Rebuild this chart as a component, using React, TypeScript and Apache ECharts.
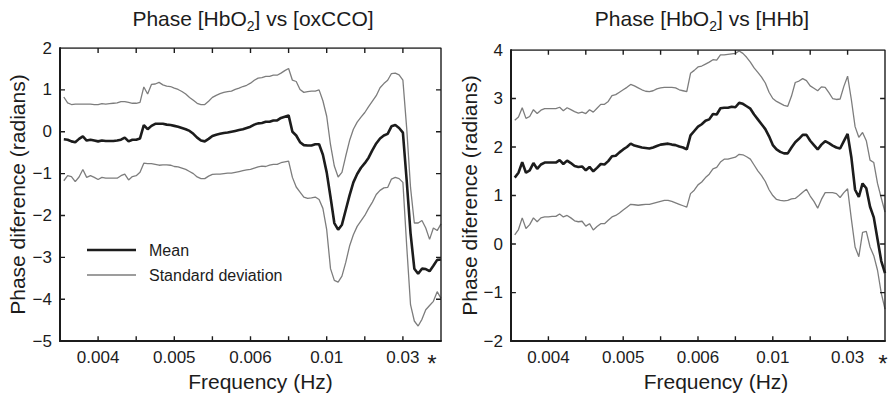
import React, { useEffect, useRef } from 'react';
import * as echarts from 'echarts';

// x positions are sample numbers 1..100 on a 0..100 warped-frequency axis
const tickPositions = [10, 30, 50, 70, 90];
const tickLabels = ['0.004', '0.005', '0.006', '0.01', '0.03'];
const xTickVals = [10, 20, 30, 40, 50, 60, 70, 80, 90];
const yTickValsA = [-4, -3, -2, -1, 0, 1];
const yTickValsB = [-1, 0, 1, 2, 3];

// Panel A: Phase [HbO2] vs [oxCCO]
const meanA = [
  -0.18, -0.19, -0.23, -0.25, -0.17, -0.11, -0.21, -0.19, -0.21, -0.23,
  -0.21, -0.22, -0.22, -0.22, -0.21, -0.19, -0.14, -0.23, -0.19, -0.19,
  -0.16, 0.16, 0.06, 0.14, 0.19, 0.19, 0.19, 0.17, 0.16, 0.14,
  0.12, 0.09, 0.06, 0.02, -0.05, -0.14, -0.21, -0.23, -0.17, -0.10,
  -0.07, -0.05, -0.03, -0.02, 0.0, 0.02, 0.04, 0.06, 0.09, 0.12,
  0.17, 0.20, 0.21, 0.24, 0.24, 0.27, 0.27, 0.33, 0.36, 0.39,
  0.0, -0.09, -0.25, -0.32, -0.33, -0.33, -0.30, -0.30, -0.55, -0.97,
  -1.56, -2.18, -2.34, -2.22, -1.87, -1.52, -1.21, -1.01, -0.86, -0.75,
  -0.62, -0.44, -0.28, -0.16, -0.09, -0.05, 0.13, 0.16, 0.09, -0.02,
  -1.17, -2.42, -3.27, -3.39, -3.27, -3.28, -3.33, -3.20, -3.06, -3.05,
];
const upperA = [
  0.83, 0.69, 0.65, 0.66, 0.66, 0.66, 0.66, 0.66, 0.65, 0.65,
  0.67, 0.66, 0.67, 0.68, 0.69, 0.72, 0.72, 0.70, 0.68, 0.68,
  0.70, 1.07, 0.90, 1.13, 1.14, 1.18, 1.12, 1.09, 1.08, 1.04,
  1.01, 0.96, 0.90, 0.82, 0.75, 0.68, 0.65, 0.65, 0.73, 0.82,
  0.87, 0.91, 0.94, 0.96, 0.97, 1.01, 1.04, 1.08, 1.11, 1.16,
  1.23, 1.28, 1.29, 1.32, 1.32, 1.35, 1.35, 1.40, 1.46, 1.51,
  1.23, 1.20, 1.01, 0.94, 0.96, 0.97, 0.97, 1.00, 0.74, 0.37,
  -0.31, -0.82, -1.08, -0.97, -0.58, -0.21, 0.06, 0.23, 0.35, 0.46,
  0.60, 0.73, 0.86, 1.05, 1.15, 1.23, 1.39, 1.40, 1.36, 1.23,
  0.08, -1.33, -2.18, -2.18, -2.12, -2.30, -2.57, -2.30, -2.36, -2.20,
];
const lowerA = [
  -1.17, -1.05, -1.07, -1.19, -1.08, -0.90, -1.09, -1.05, -1.09, -1.14,
  -1.09, -1.11, -1.11, -1.11, -1.11, -1.05, -1.01, -1.15, -1.07, -1.05,
  -0.97, -0.75, -0.76, -0.76, -0.78, -0.80, -0.79, -0.79, -0.80, -0.83,
  -0.84, -0.87, -0.90, -0.95, -1.00, -1.08, -1.12, -1.12, -1.06, -1.02,
  -1.01, -1.01, -1.00, -0.99, -0.99, -0.97, -0.95, -0.93, -0.91, -0.90,
  -0.87, -0.84, -0.82, -0.83, -0.80, -0.78, -0.78, -0.74, -0.72, -0.70,
  -1.09, -1.32, -1.44, -1.56, -1.59, -1.58, -1.56, -1.62, -1.83, -2.34,
  -3.27, -3.55, -3.59, -3.45, -3.12, -2.73, -2.46, -2.26, -2.13, -2.00,
  -1.83, -1.68, -1.50, -1.40, -1.34, -1.33, -1.13, -1.09, -1.12, -1.21,
  -2.73, -4.13, -4.52, -4.64, -4.48, -4.25, -4.15, -4.05, -3.82, -3.98,
];

// Panel B: Phase [HbO2] vs [HHb]
const meanB = [
  1.37, 1.47, 1.69, 1.47, 1.52, 1.67, 1.55, 1.64, 1.68, 1.68,
  1.68, 1.68, 1.73, 1.65, 1.72, 1.67, 1.61, 1.59, 1.60, 1.52,
  1.59, 1.50, 1.57, 1.65, 1.64, 1.71, 1.81, 1.82, 1.89, 1.95,
  2.00, 2.07, 2.03, 2.01, 1.99, 1.98, 1.97, 1.99, 2.02, 2.05,
  2.06, 2.07, 2.05, 2.04, 2.01, 1.99, 1.95, 2.24, 2.33, 2.42,
  2.47, 2.54, 2.57, 2.68, 2.67, 2.80, 2.81, 2.81, 2.83, 2.82,
  2.91, 2.89, 2.84, 2.79, 2.67, 2.57, 2.47, 2.37, 2.22, 2.04,
  1.95, 1.90, 1.87, 1.87, 1.99, 2.10, 2.17, 2.25, 2.25, 2.13,
  2.04, 1.95, 2.05, 2.12, 2.08, 2.03, 1.99, 1.97, 2.12, 2.27,
  1.79, 1.12, 0.97, 1.25, 1.15, 0.77, 0.55, 0.10, -0.35, -0.60,
];
const upperB = [
  2.55, 2.62, 2.81, 2.59, 2.63, 2.77, 2.69, 2.76, 2.79, 2.79,
  2.79, 2.79, 2.82, 2.75, 2.81, 2.77, 2.73, 2.70, 2.72, 2.69,
  2.77, 2.72, 2.80, 2.88, 2.88, 2.94, 3.06, 3.08, 3.13, 3.18,
  3.23, 3.29, 3.26, 3.22, 3.18, 3.15, 3.14, 3.16, 3.20, 3.22,
  3.23, 3.23, 3.23, 3.22, 3.18, 3.16, 3.14, 3.52, 3.58, 3.65,
  3.67, 3.71, 3.75, 3.80, 3.79, 3.90, 3.90, 3.91, 3.92, 3.93,
  3.98, 3.93, 3.85, 3.75, 3.63, 3.54, 3.44, 3.32, 3.13, 3.00,
  2.94, 2.90, 2.86, 2.84, 3.05, 3.33, 3.36, 3.41, 3.37, 3.26,
  3.21, 3.16, 3.24, 3.23, 3.12, 3.00, 2.98, 2.99, 3.25, 3.46,
  2.98, 2.42, 2.20, 2.30, 2.13, 1.73, 1.68, 1.25, 0.95, 0.66,
];
const lowerB = [
  0.19, 0.30, 0.54, 0.32, 0.40, 0.54, 0.46, 0.54, 0.56, 0.56,
  0.57, 0.57, 0.62, 0.56, 0.59, 0.54, 0.48, 0.46, 0.47, 0.37,
  0.42, 0.29, 0.36, 0.42, 0.42, 0.49, 0.56, 0.59, 0.64, 0.70,
  0.76, 0.82, 0.81, 0.80, 0.81, 0.82, 0.82, 0.84, 0.86, 0.88,
  0.90, 0.90, 0.88, 0.85, 0.82, 0.79, 0.76, 1.04, 1.11, 1.22,
  1.28, 1.37, 1.44, 1.55, 1.58, 1.69, 1.75, 1.75, 1.77, 1.79,
  1.85, 1.84, 1.80, 1.75, 1.63, 1.51, 1.41, 1.29, 1.12, 1.00,
  0.92, 0.90, 0.89, 0.90, 0.93, 0.94, 1.00, 1.07, 1.13, 0.99,
  0.88, 0.74, 0.92, 1.06, 1.06, 1.06, 1.04, 0.96, 1.06, 1.14,
  0.52, -0.06, -0.26, 0.24, 0.26, -0.06, -0.24, -0.54, -1.01, -1.34,
];

const titleA = ['Phase [HbO', '2', '] vs [oxCCO]'];
const titleB = ['Phase [HbO', '2', '] vs [HHb]'];
const xName = 'Frequency (Hz)';
const yName = 'Phase diference (radians)';
const legendNames = ['Mean', 'Standard deviation'];

const FONT = '"Liberation Sans", Arial, Helvetica, sans-serif';
const INK = '#1c1c1c';
const GREY = '#7d7d7d';
const MEAN_W = 2.6;
const SD_W = 1.3;
const THIN = 1.4;
const TICK = 5;
const GRID_H = 300;
const GRID_W = 381;

const pts = (arr: number[]) => arr.map((v, i) => [i + 1, v]);
const xFmt = (v: number) => {
  const i = tickPositions.indexOf(Math.round(v));
  return i >= 0 ? tickLabels[i] : '';
};
const yFmt = (v: number) => (v < 0 ? '\u2212' + Math.abs(v) : String(v));

function bottomX(grid: number, shift: number) {
  return {
    type: 'value', gridIndex: grid, position: 'bottom', min: 0, max: 100, interval: 10,
    axisLine: { show: true, onZero: false, lineStyle: { color: INK, width: 2 } },
    axisTick: { show: false },
    axisLabel: { formatter: xFmt, fontSize: 17, color: INK, fontFamily: FONT, margin: 8 },
    splitLine: { show: false },
    name: xName, nameLocation: 'middle', nameGap: 20,
    nameTextStyle: { fontSize: 21, color: INK, fontFamily: FONT, padding: [0, 0, 0, shift] },
  };
}
function leftY(grid: number, min: number, max: number, gap: number) {
  return {
    type: 'value', gridIndex: grid, position: 'left', min, max, interval: 1,
    axisLine: { show: true, onZero: false, lineStyle: { color: INK, width: 2 } },
    axisTick: { show: false },
    axisLabel: { formatter: yFmt, fontSize: 17, color: INK, fontFamily: FONT, margin: 8 },
    splitLine: { show: false },
    name: yName, nameLocation: 'middle', nameGap: gap,
    nameTextStyle: { fontSize: 21, color: INK, fontFamily: FONT },
  };
}
function line(name: string, data: number[], xi: number, yi: number, mean: boolean) {
  return {
    type: 'line', name, data: pts(data), xAxisIndex: xi, yAxisIndex: yi,
    symbol: 'none', showSymbol: false, z: mean ? 4 : 3,
    lineStyle: { color: mean ? INK : GREY, width: mean ? MEAN_W : SD_W },
    itemStyle: { color: mean ? INK : GREY },
  };
}
// box and inward ticks on all four sides as one continuous path through the axis scales
function frame(grid: number, yMin: number, yMax: number, yTicks: number[]) {
  const dy = (TICK * (yMax - yMin)) / GRID_H;
  const dx = (TICK * 100) / GRID_W;
  const data: number[][] = [[0, yMax]];
  xTickVals.forEach((v) => data.push([v, yMax], [v, yMax - dy], [v, yMax]));
  data.push([100, yMax]);
  [...yTicks].reverse().forEach((v) => data.push([100, v], [100 - dx, v], [100, v]));
  data.push([100, yMin]);
  [...xTickVals].reverse().forEach((v) => data.push([v, yMin], [v, yMin + dy], [v, yMin]));
  data.push([0, yMin]);
  yTicks.forEach((v) => data.push([0, v], [dx, v], [0, v]));
  data.push([0, yMax]);
  return {
    type: 'line', name: 'frame', data, xAxisIndex: grid, yAxisIndex: grid,
    symbol: 'none', showSymbol: false, z: 5,
    lineStyle: { color: INK, width: THIN }, itemStyle: { color: INK },
  };
}
function legendItem(name: string, top: number, h: number) {
  return {
    data: [name], orient: 'vertical', left: 87, top, padding: 0,
    icon: 'rect', itemWidth: 49, itemHeight: h, selectedMode: false,
    textStyle: { fontSize: 16, color: INK, fontFamily: FONT, padding: [0, 0, 0, 8] },
  };
}
function titleText(parts: string[], x: number) {
  return {
    type: 'text', x, y: 8,
    style: {
      text: `{a|${parts[0]}}{s|${parts[1]}}{a|${parts[2]}}`,
      align: 'center', verticalAlign: 'top',
      rich: {
        a: { fontSize: 21, fontFamily: FONT, fill: INK, lineHeight: 21, verticalAlign: 'top' },
        s: { fontSize: 14, fontFamily: FONT, fill: INK, lineHeight: 14, padding: [11, 0, 0, 0], verticalAlign: 'top' },
      },
    },
  };
}
function star(x: number) {
  return {
    type: 'text', x, y: 351,
    style: { text: '*', fontSize: 24, fontFamily: FONT, fill: INK, align: 'center', verticalAlign: 'top' },
  };
}

export default function App() {
  const ref = useRef<HTMLDivElement>(null);
  useEffect(() => {
    document.body.style.margin = '0';
    if (!ref.current) return;
    const chart = echarts.init(ref.current, undefined, { renderer: 'svg' });
    chart.setOption({
      animation: false,
      backgroundColor: '#ffffff',
      grid: [
        { left: 60, top: 48, width: GRID_W, height: GRID_H },
        { left: 511, top: 50, width: GRID_W + 1, height: GRID_H },
      ],
      xAxis: [bottomX(0, 20), bottomX(1, 36)],
      yAxis: [leftY(0, -5, 2, 32), leftY(1, -2, 4, 21)],
      legend: [
        legendItem(legendNames[0], 242, MEAN_W),
        legendItem(legendNames[1], 267, SD_W),
      ],
      series: [
        frame(0, -5, 2, yTickValsA),
        frame(1, -2, 4, yTickValsB),
        line(legendNames[1], upperA, 0, 0, false),
        line(legendNames[1], lowerA, 0, 0, false),
        line(legendNames[0], meanA, 0, 0, true),
        line(legendNames[1], upperB, 1, 1, false),
        line(legendNames[1], lowerB, 1, 1, false),
        line(legendNames[0], meanB, 1, 1, true),
      ],
      graphic: [titleText(titleA, 253), titleText(titleB, 702), star(432), star(883)],
    });
    return () => chart.dispose();
  }, []);
  return <div ref={ref} style={{ width: 888, height: 397 }} />;
}
